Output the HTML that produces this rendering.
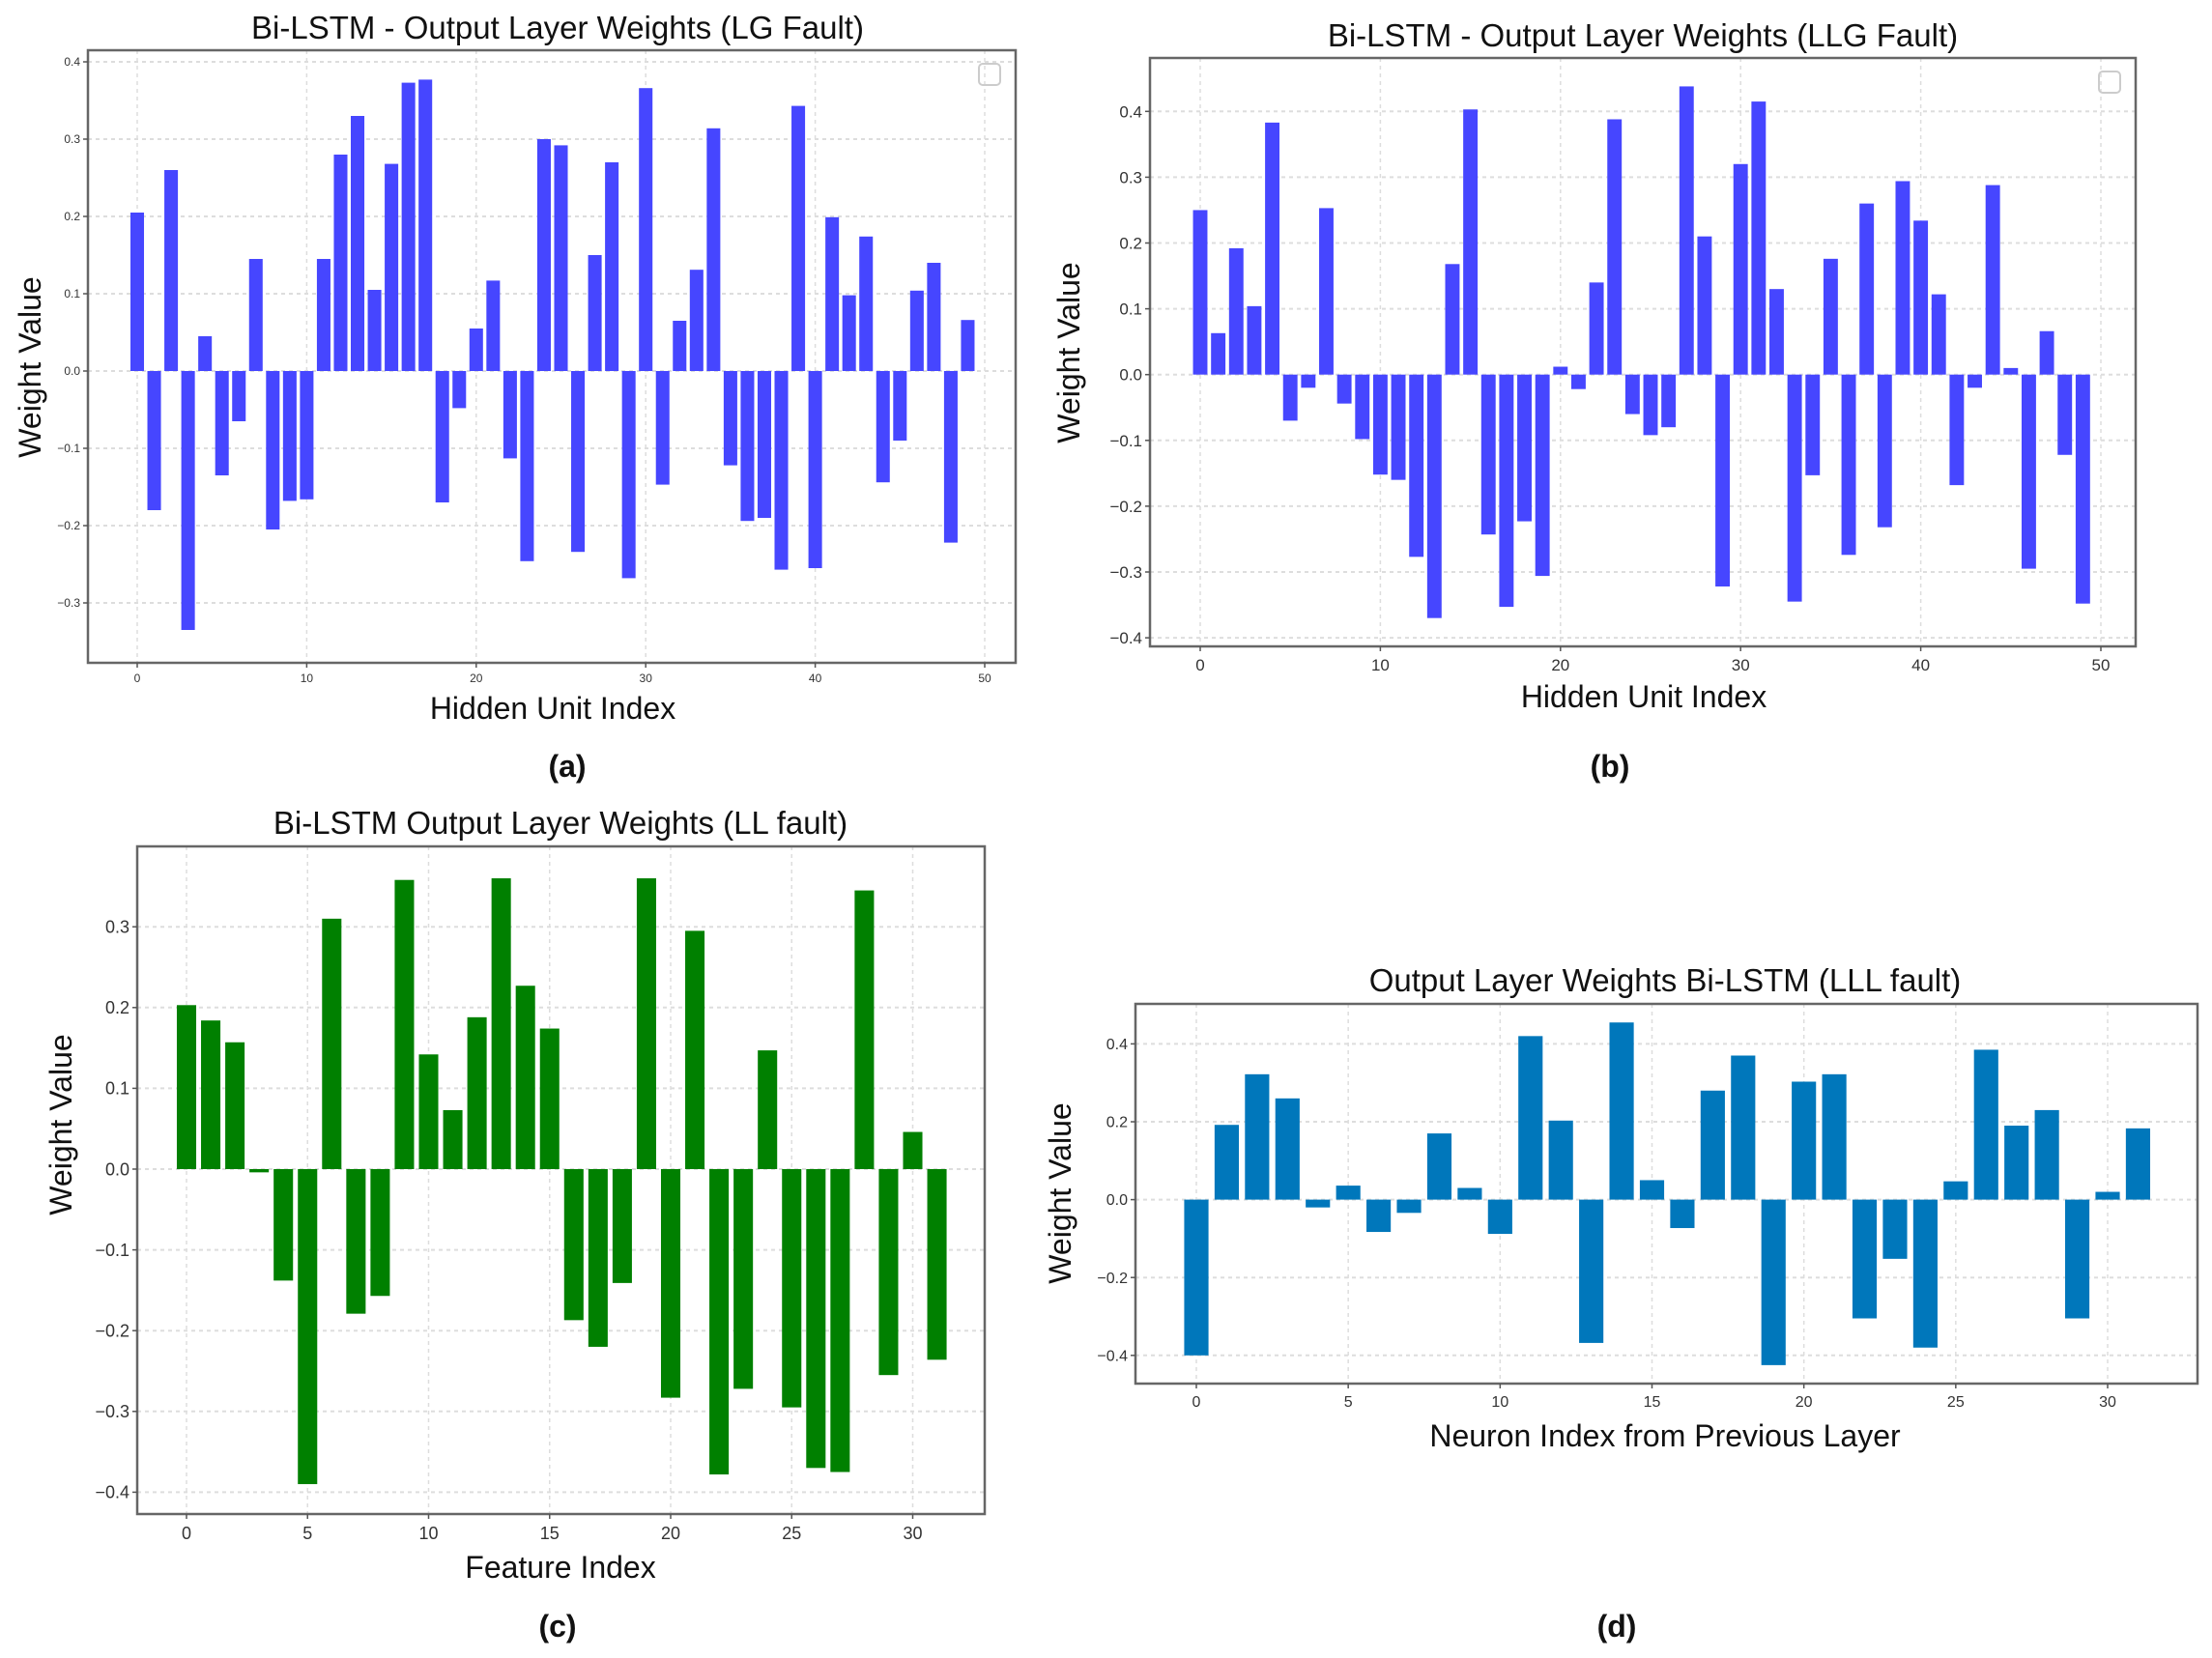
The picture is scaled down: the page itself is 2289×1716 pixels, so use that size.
<!DOCTYPE html>
<html><head><meta charset="utf-8">
<style>
body{margin:0;background:#fff;}
svg{display:block;font-family:"Liberation Sans","DejaVu Sans",sans-serif;}
</style></head>
<body>
<svg id="fig" width="2289" height="1716" viewBox="0 0 2289 1716" xmlns="http://www.w3.org/2000/svg">
<rect width="2289" height="1716" fill="#fff"/>
</svg>
<script>
const lgValues=[0.205,-0.18,0.26,-0.335,0.045,-0.135,-0.065,0.145,-0.205,-0.168,-0.166,0.145,0.28,0.33,0.105,0.268,0.373,0.377,-0.17,-0.048,0.055,0.117,-0.113,-0.246,0.3,0.292,-0.234,0.15,0.27,-0.268,0.366,-0.147,0.065,0.131,0.314,-0.122,-0.194,-0.19,-0.257,0.343,-0.255,0.199,0.098,0.174,-0.144,-0.09,0.104,0.14,-0.222,0.066];
const llgValues=[0.25,0.063,0.192,0.104,0.383,-0.07,-0.02,0.253,-0.044,-0.098,-0.152,-0.16,-0.277,-0.37,0.168,0.403,-0.243,-0.353,-0.223,-0.306,0.012,-0.022,0.14,0.388,-0.06,-0.092,-0.08,0.438,0.21,-0.322,0.32,0.415,0.13,-0.345,-0.153,0.176,-0.274,0.26,-0.232,0.294,0.234,0.122,-0.168,-0.02,0.288,0.01,-0.295,0.066,-0.122,-0.348];
const llValues=[0.203,0.184,0.157,-0.004,-0.138,-0.39,0.31,-0.179,-0.157,0.358,0.142,0.073,0.188,0.36,0.227,0.174,-0.187,-0.22,-0.141,0.36,-0.283,0.295,-0.378,-0.272,0.147,-0.295,-0.37,-0.375,0.345,-0.255,0.046,-0.236];
const lllValues=[-0.4,0.192,0.322,0.26,-0.02,0.036,-0.083,-0.034,0.17,0.03,-0.088,0.42,0.203,-0.368,0.455,0.05,-0.073,0.28,0.37,-0.425,0.303,0.322,-0.305,-0.152,-0.38,0.047,0.385,0.19,0.23,-0.305,0.02,0.183];
const xTicksA=[0,10,20,30,40,50];
const xTicksC=[0,5,10,15,20,25,30];
const yTicksA=[-0.3,-0.2,-0.1,0.0,0.1,0.2,0.3,0.4];
const yTicksB=[-0.4,-0.3,-0.2,-0.1,0.0,0.1,0.2,0.3,0.4];
const yTicksC=[-0.4,-0.3,-0.2,-0.1,0.0,0.1,0.2,0.3];
const yTicksD=[-0.4,-0.2,0.0,0.2,0.4];

const svg=document.getElementById('fig');
const NS='http://www.w3.org/2000/svg';
function mk(tag,attrs,parent){const e=document.createElementNS(NS,tag);for(const k in attrs)e.setAttribute(k,attrs[k]);(parent||svg).appendChild(e);return e;}
function fmt(v){const s=Math.abs(v).toFixed(1);return (v<-1e-9?'\u2212':'')+s;}

function panel(p){
  const g=mk('g',{});
  
  
  const sx=v=>p.x0px+(v-0)*(p.x1px-p.x0px)/p.xref;
  const sy=v=>p.y0px-v*p.py;
  // gridlines
  p.xt.forEach(t=>{const l=mk('line',{x1:sx(t),x2:sx(t),y1:p.top,y2:p.bottom,stroke:'#ddd','stroke-width':1.5,'stroke-dasharray':'4,4'},g);
    
    });
  p.yt.forEach(t=>{const l=mk('line',{x1:p.left,x2:p.right,y1:sy(t),y2:sy(t),stroke:'#ddd','stroke-width':2,'stroke-dasharray':'4,4'},g);
    
    });
  // bars
  const bw=0.8*(p.x1px-p.x0px)/p.xref;
  p.values.forEach((v,i)=>{
    const y=Math.min(sy(v),sy(0)),h=Math.abs(sy(v)-sy(0));
    const r=mk('rect',{x:sx(i)-bw/2,y:y,width:bw,height:Math.max(h,1),fill:p.color},g);
    
    
  });
  // frame
  const f=mk('rect',{x:p.left,y:p.top,width:p.right-p.left,height:p.bottom-p.top,fill:'none',stroke:'#666','stroke-width':2.5},g);
  
  
  // ticks
  p.xt.forEach(t=>{mk('line',{x1:sx(t),x2:sx(t),y1:p.bottom,y2:p.bottom+5,stroke:'#555','stroke-width':1.5},g);
    const tx=mk('text',{x:sx(t),y:p.bottom+8+p.tfs,'font-size':p.tfs,'text-anchor':'middle',fill:'#333'},g);tx.textContent=t;
    
    });
  p.yt.forEach(t=>{mk('line',{x1:p.left-5,x2:p.left,y1:sy(t),y2:sy(t),stroke:'#555','stroke-width':1.5},g);
    const tx=mk('text',{x:p.left-8,y:sy(t)+p.tfs*0.35,'font-size':p.tfs,'text-anchor':'end',fill:'#333'},g);tx.textContent=fmt(t);
    
    });
  // title & labels
  const ti=mk('text',{x:p.tx,y:p.ty,'font-size':33,'text-anchor':'middle',fill:'#111'},g);ti.textContent=p.title;
  
  
  const xl=mk('text',{x:p.xlx,y:p.xly,'font-size':32,'text-anchor':'middle',fill:'#111'},g);xl.textContent=p.xlabel;
  
  
  const yl=mk('text',{x:0,y:0,'font-size':32,'text-anchor':'middle',fill:'#111',transform:`translate(${p.ylx},${p.yly}) rotate(-90)`},g);yl.textContent='Weight Value';
  
  
  const sl=mk('text',{x:p.slx,y:p.sly,'font-size':32,'font-weight':'bold','text-anchor':'middle',fill:'#111'},g);sl.textContent=p.sub;
  
  
  if(p.legend){const lg=mk('rect',{x:p.right-38,y:p.top+14,width:22,height:22,rx:4,fill:'none',stroke:'#ccc','stroke-width':2},g);
    
    }
}

panel({name:'chart-lg-fault',values:lgValues,color:'#4646ff',left:91,right:1051,top:52,bottom:686,x0px:142,x1px:1019,xref:50,y0px:384,py:800,xt:xTicksA,yt:yTicksA,tfs:12,
  title:'Bi-LSTM - Output Layer Weights (LG Fault)',tx:577,ty:40,xlabel:'Hidden Unit Index',xlx:572,xly:744,ylx:42,yly:380,sub:'(a)',slx:587,sly:804,legend:true});
panel({name:'chart-llg-fault',values:llgValues,color:'#4646ff',left:1190,right:2210,top:60,bottom:669,x0px:1242,x1px:2174,xref:50,y0px:387.7,py:681,xt:xTicksA,yt:yTicksB,tfs:17,
  title:'Bi-LSTM - Output Layer Weights (LLG Fault)',tx:1700,ty:48,xlabel:'Hidden Unit Index',xlx:1701,xly:732,ylx:1117,yly:365,sub:'(b)',slx:1666,sly:804,legend:true});
panel({name:'chart-ll-fault',values:llValues,color:'#008000',left:142,right:1019,top:876,bottom:1567,x0px:193,x1px:944.5,xref:30,y0px:1210,py:836,xt:xTicksC,yt:yTicksC,tfs:18,
  title:'Bi-LSTM Output Layer Weights (LL fault)',tx:580,ty:863,xlabel:'Feature Index',xlx:580,xly:1633,ylx:74,yly:1164,sub:'(c)',slx:577,sly:1694,legend:false});
panel({name:'chart-lll-fault',values:lllValues,color:'#0077bb',left:1175,right:2274,top:1039,bottom:1432,x0px:1238,x1px:2181,xref:30,y0px:1241.6,py:403,xt:xTicksC,yt:yTicksD,tfs:16,
  title:'Output Layer Weights Bi-LSTM (LLL fault)',tx:1723,ty:1026,xlabel:'Neuron Index from Previous Layer',xlx:1723,xly:1497,ylx:1108,yly:1235,sub:'(d)',slx:1673,sly:1694,legend:false});
</script>
</body></html>
